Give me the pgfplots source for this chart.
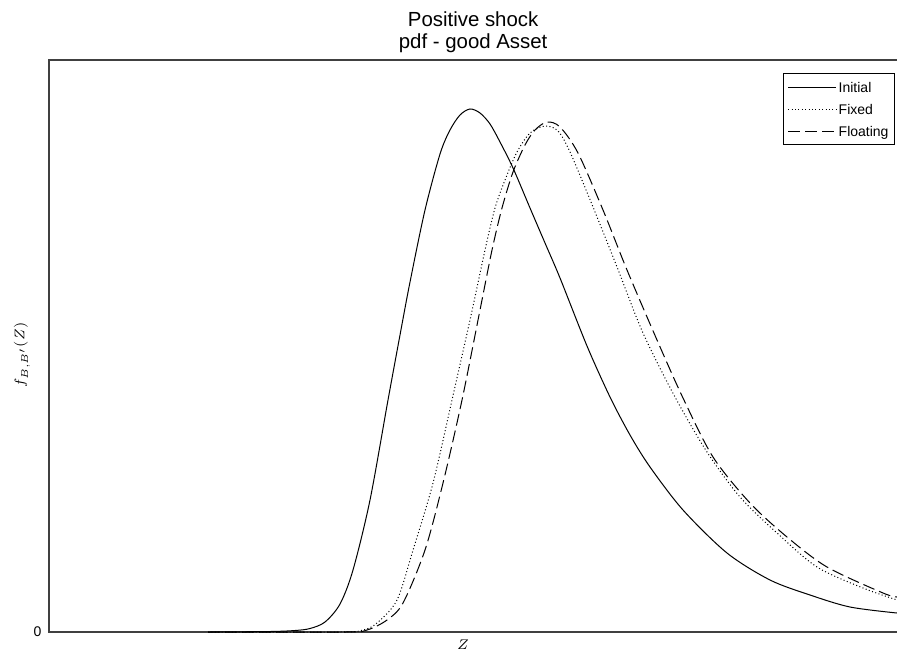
\documentclass[border=0pt]{standalone}
\usepackage{fontspec}
\setmainfont{Liberation Sans}
\usepackage{pgfplots}
\pgfplotsset{compat=1.18}
\begin{document}
\begin{tikzpicture}
\path[use as bounding box] (-24.5pt,-14pt) rectangle (424pt,316pt);
\begin{axis}[
  at={(0,0)}, anchor=south west,
  scale only axis, width=425pt, height=286pt,
  xmin=49, xmax=899, ymin=0, ymax=572,
  xtick=\empty, ytick={0},
  major tick length=0pt,
  /pgf/number format/assume math mode=true,
  tick label style={font=\fontsize{7}{8}\selectfont},
  yticklabel style={xshift=-0.3pt},
  axis line style={draw=black!75, line width=0.7pt},
  title={Positive shock\\pdf - good Asset},
  title style={font=\fontsize{10.2}{11.2}\selectfont, align=center, at={(axis description cs:0.499,1)}, anchor=south, inner sep=0pt, yshift=-2.8pt},
  xlabel={$Z$},
  xlabel style={font=\fontsize{7}{8}\selectfont, at={(axis description cs:0.487,-0.0227)}, anchor=center},
  ylabel={$f_{B,B'}(Z)$},
  ylabel style={font=\fontsize{7.5}{9}\selectfont, at={(axis description cs:-0.0318,0.484)}, anchor=center},
  legend style={at={(axis description cs:0.9953,0.977)}, anchor=north east, draw=black, line width=0.5pt,
    font=\fontsize{7}{8}\selectfont, row sep=3.4pt, inner xsep=2pt, inner ysep=3pt,
    nodes={inner sep=1pt, text height=5.2pt, text depth=0.4pt}},
  legend cell align=left,
  legend image code/.code={\draw[#1] (0pt,0pt) -- (24pt,0pt);},
]
\addplot[black, line width=0.5pt, smooth, tension=0.5] coordinates {
(208,0) (270,0.5) (295,1.5) (310,3.5) (325,10) (340,28) (353,62) (370,132) (388,232) (400,297) (410,350) (425,422)
(440,478) (450,502) (460,517) (470,523) (480,519) (490,508) (500,490) (513,464) (530,424) (545,389) (560,354)
(587,286) (610,235) (630,197) (650,165) (683,122) (727,79) (770,52) (810,37) (850,25) (897,19)};
\addlegendentry{Initial}
\addplot[black, line width=0.5pt, smooth, tension=0.5, dash pattern=on 0.5pt off 1.2pt] coordinates {
(208,0) (340,0) (363,2) (377,9) (397,32) (413,82) (433,149) (452,232) (470,312) (485,382)
(495,424) (505,452) (517,480) (530,499) (545,506) (558,501) (570,480) (593,425) (617,365)
(643,299) (675,235) (707,180) (740,135) (777,99) (817,65) (863,44) (897,32)};
\addlegendentry{Fixed}
\addplot[black, line width=0.5pt, smooth, tension=0.5, dash pattern=on 6pt off 2.5pt] coordinates {
(208,0) (345,0) (367,2) (387,12) (403,29) (425,82) (443,149) (462,232) (480,322) (492,382)
(502,424) (513,460) (525,487) (535,502) (547,510) (560,505) (578,479) (603,422) (627,362)
(657,292) (683,234) (713,175) (750,129) (787,95) (827,65) (883,39) (897,35)};
\addlegendentry{Floating}
\end{axis}
\end{tikzpicture}
\end{document}
